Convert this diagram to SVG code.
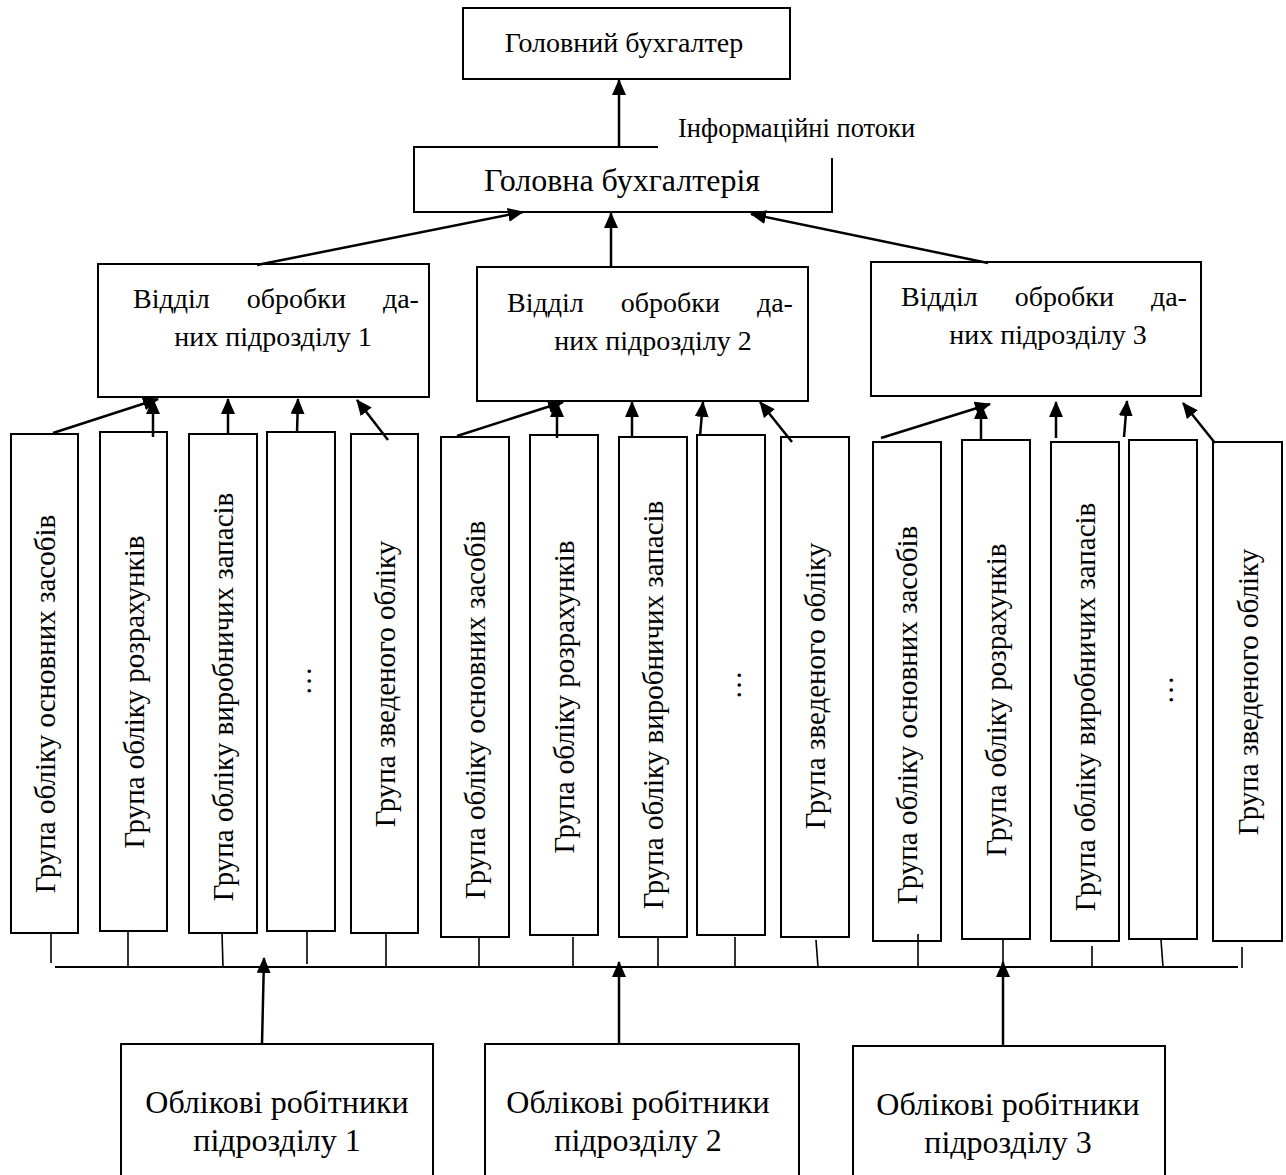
<svg xmlns="http://www.w3.org/2000/svg" width="1286" height="1175" viewBox="0 0 1286 1175">
<style>
.box{fill:#fff;stroke:#000;stroke-width:2}
.open{fill:none;stroke:#000;stroke-width:2}
.t{font-family:'Liberation Serif','DejaVu Serif',serif;fill:#000}
.h{text-anchor:middle}
.v{text-anchor:middle;font-size:29px}
.arr{stroke:#000;stroke-width:2.5;fill:none;marker-end:url(#ah)}
.tick{stroke:#000;stroke-width:1.6;fill:none}
.bus{stroke:#000;stroke-width:2.2;fill:none}
</style>
<defs>
<marker id="ah" viewBox="0 0 16 14" refX="15" refY="7" markerWidth="16" markerHeight="14" markerUnits="userSpaceOnUse" orient="auto">
<path d="M0,0 L16,7 L0,14 z" fill="#000"/>
</marker>
</defs>
<rect width="1286" height="1175" fill="#fff"/>

<g id="chief">
<rect class="box" x="463" y="8" width="327" height="71"/>
<text class="t h" x="624" y="52" font-size="28">Головний бухгалтер</text>
</g>

<g id="main-accounting">
<path class="open" d="M658,147 H414 V212 H832 V158"/>
<text class="t h" x="622" y="191" font-size="32">Головна бухгалтерія</text>
</g>

<g id="info-label">
<text class="t" x="678" y="137" font-size="26.5">Інформаційні потоки</text>
</g>

<g id="dept1">
<rect class="box" x="98" y="264" width="331" height="133"/>
<text class="t h" x="276" y="308" font-size="28" word-spacing="30">Відділ обробки да-</text>
<text class="t h" x="273" y="346" font-size="28">них підрозділу 1</text>
</g>
<g id="dept2">
<rect class="box" x="477" y="267" width="331" height="134"/>
<text class="t h" x="650" y="312" font-size="28" word-spacing="30">Відділ обробки да-</text>
<text class="t h" x="653" y="350" font-size="28">них підрозділу 2</text>
</g>
<g id="dept3">
<rect class="box" x="871" y="262" width="330" height="134"/>
<text class="t h" x="1044" y="306" font-size="28" word-spacing="30">Відділ обробки да-</text>
<text class="t h" x="1048" y="344" font-size="28">них підрозділу 3</text>
</g>

<g id="g1-1"><rect class="box" x="11" y="434" width="67" height="499"/><text class="t v" transform="translate(54.5,704) rotate(-90)">Група обліку основних засобів</text></g>
<g id="g1-2"><rect class="box" x="100" y="432" width="67" height="499"/><text class="t v" transform="translate(143.5,692) rotate(-90)">Група обліку розрахунків</text></g>
<g id="g1-3"><rect class="box" x="189" y="434" width="68" height="499"/><text class="t v" transform="translate(233,697) rotate(-90)">Група обліку виробничих запасів</text></g>
<g id="g1-4"><rect class="box" x="267" y="432" width="68" height="499"/><text class="t v" transform="translate(311,681) rotate(-90)">…</text></g>
<g id="g1-5"><rect class="box" x="351" y="434" width="67" height="499"/><text class="t v" transform="translate(394.5,684) rotate(-90)">Група зведеного обліку</text></g>

<g id="g2-1"><rect class="box" x="441" y="437" width="68" height="500"/><text class="t v" transform="translate(485,710) rotate(-90)">Група обліку основних засобів</text></g>
<g id="g2-2"><rect class="box" x="530" y="435" width="68" height="500"/><text class="t v" transform="translate(574,697) rotate(-90)">Група обліку розрахунків</text></g>
<g id="g2-3"><rect class="box" x="619" y="437" width="68" height="500"/><text class="t v" transform="translate(663,705) rotate(-90)">Група обліку виробничих запасів</text></g>
<g id="g2-4"><rect class="box" x="697" y="435" width="68" height="500"/><text class="t v" transform="translate(741,685) rotate(-90)">…</text></g>
<g id="g2-5"><rect class="box" x="781" y="437" width="68" height="500"/><text class="t v" transform="translate(825,686) rotate(-90)">Група зведеного обліку</text></g>

<g id="g3-1"><rect class="box" x="873" y="442" width="68" height="499"/><text class="t v" transform="translate(917,715) rotate(-90)">Група обліку основних засобів</text></g>
<g id="g3-2"><rect class="box" x="962" y="440" width="68" height="499"/><text class="t v" transform="translate(1006,700) rotate(-90)">Група обліку розрахунків</text></g>
<g id="g3-3"><rect class="box" x="1051" y="442" width="68" height="499"/><text class="t v" transform="translate(1095,707) rotate(-90)">Група обліку виробничих запасів</text></g>
<g id="g3-4"><rect class="box" x="1129" y="440" width="68" height="499"/><text class="t v" transform="translate(1173,690) rotate(-90)">…</text></g>
<g id="g3-5"><rect class="box" x="1213" y="442" width="69" height="499"/><text class="t v" transform="translate(1257.5,692) rotate(-90)">Група зведеного обліку</text></g>

<g id="workers1">
<rect class="box" x="121" y="1044" width="312" height="140"/>
<text class="t h" x="277" y="1113" font-size="32">Облікові робітники</text>
<text class="t h" x="277" y="1151" font-size="32">підрозділу 1</text>
</g>
<g id="workers2">
<rect class="box" x="485" y="1044" width="314" height="140"/>
<text class="t h" x="638" y="1113" font-size="32">Облікові робітники</text>
<text class="t h" x="638" y="1151" font-size="32">підрозділу 2</text>
</g>
<g id="workers3">
<rect class="box" x="853" y="1046" width="312" height="140"/>
<text class="t h" x="1008" y="1115" font-size="32">Облікові робітники</text>
<text class="t h" x="1008" y="1153" font-size="32">підрозділу 3</text>
</g>

<g id="connectors">
<line class="arr" x1="619" y1="147" x2="619" y2="80"/>
<line class="arr" x1="257" y1="265" x2="523" y2="212"/>
<line class="arr" x1="611" y1="267" x2="611" y2="213"/>
<line class="arr" x1="988" y1="263" x2="751" y2="214"/>

<line class="arr" x1="53" y1="433" x2="158" y2="399"/>
<line class="arr" x1="153" y1="437" x2="153" y2="399"/>
<line class="arr" x1="228" y1="433" x2="228" y2="399"/>
<line class="arr" x1="297" y1="433" x2="298" y2="399"/>
<line class="arr" x1="388" y1="440" x2="357" y2="400"/>

<line class="arr" x1="457" y1="436" x2="563" y2="402"/>
<line class="arr" x1="557" y1="438" x2="557" y2="402"/>
<line class="arr" x1="632" y1="437" x2="632" y2="402"/>
<line class="arr" x1="700" y1="436" x2="703" y2="402"/>
<line class="arr" x1="792" y1="442" x2="760" y2="402"/>

<line class="arr" x1="881" y1="438" x2="990" y2="404"/>
<line class="arr" x1="981" y1="441" x2="981" y2="404"/>
<line class="arr" x1="1056" y1="438" x2="1056" y2="402"/>
<line class="arr" x1="1124" y1="437" x2="1127" y2="401"/>
<line class="arr" x1="1215" y1="443" x2="1183" y2="403"/>

<line class="bus" x1="55" y1="967" x2="1238" y2="967"/>
<line class="tick" x1="51" y1="933" x2="51" y2="963"/>
<line class="tick" x1="128" y1="931" x2="128" y2="967"/>
<line class="tick" x1="222" y1="933" x2="223" y2="967"/>
<line class="tick" x1="307" y1="931" x2="307" y2="964"/>
<line class="tick" x1="386" y1="934" x2="386" y2="968"/>
<line class="tick" x1="479" y1="936" x2="479" y2="967"/>
<line class="tick" x1="573" y1="937" x2="573" y2="968"/>
<line class="tick" x1="658" y1="937" x2="658" y2="967"/>
<line class="tick" x1="735" y1="937" x2="735" y2="967"/>
<line class="tick" x1="816" y1="940" x2="818" y2="967"/>
<line class="tick" x1="918" y1="934" x2="918" y2="967"/>
<line class="tick" x1="1003" y1="939" x2="1003" y2="962"/>
<line class="tick" x1="1092" y1="946" x2="1092" y2="968"/>
<line class="tick" x1="1161" y1="940" x2="1163" y2="967"/>
<line class="tick" x1="1242" y1="947" x2="1242" y2="968"/>

<line class="arr" x1="262" y1="1044" x2="264" y2="958"/>
<line class="arr" x1="619" y1="1044" x2="619" y2="962"/>
<line class="arr" x1="1003" y1="1046" x2="1003" y2="962"/>
</g>
</svg>
